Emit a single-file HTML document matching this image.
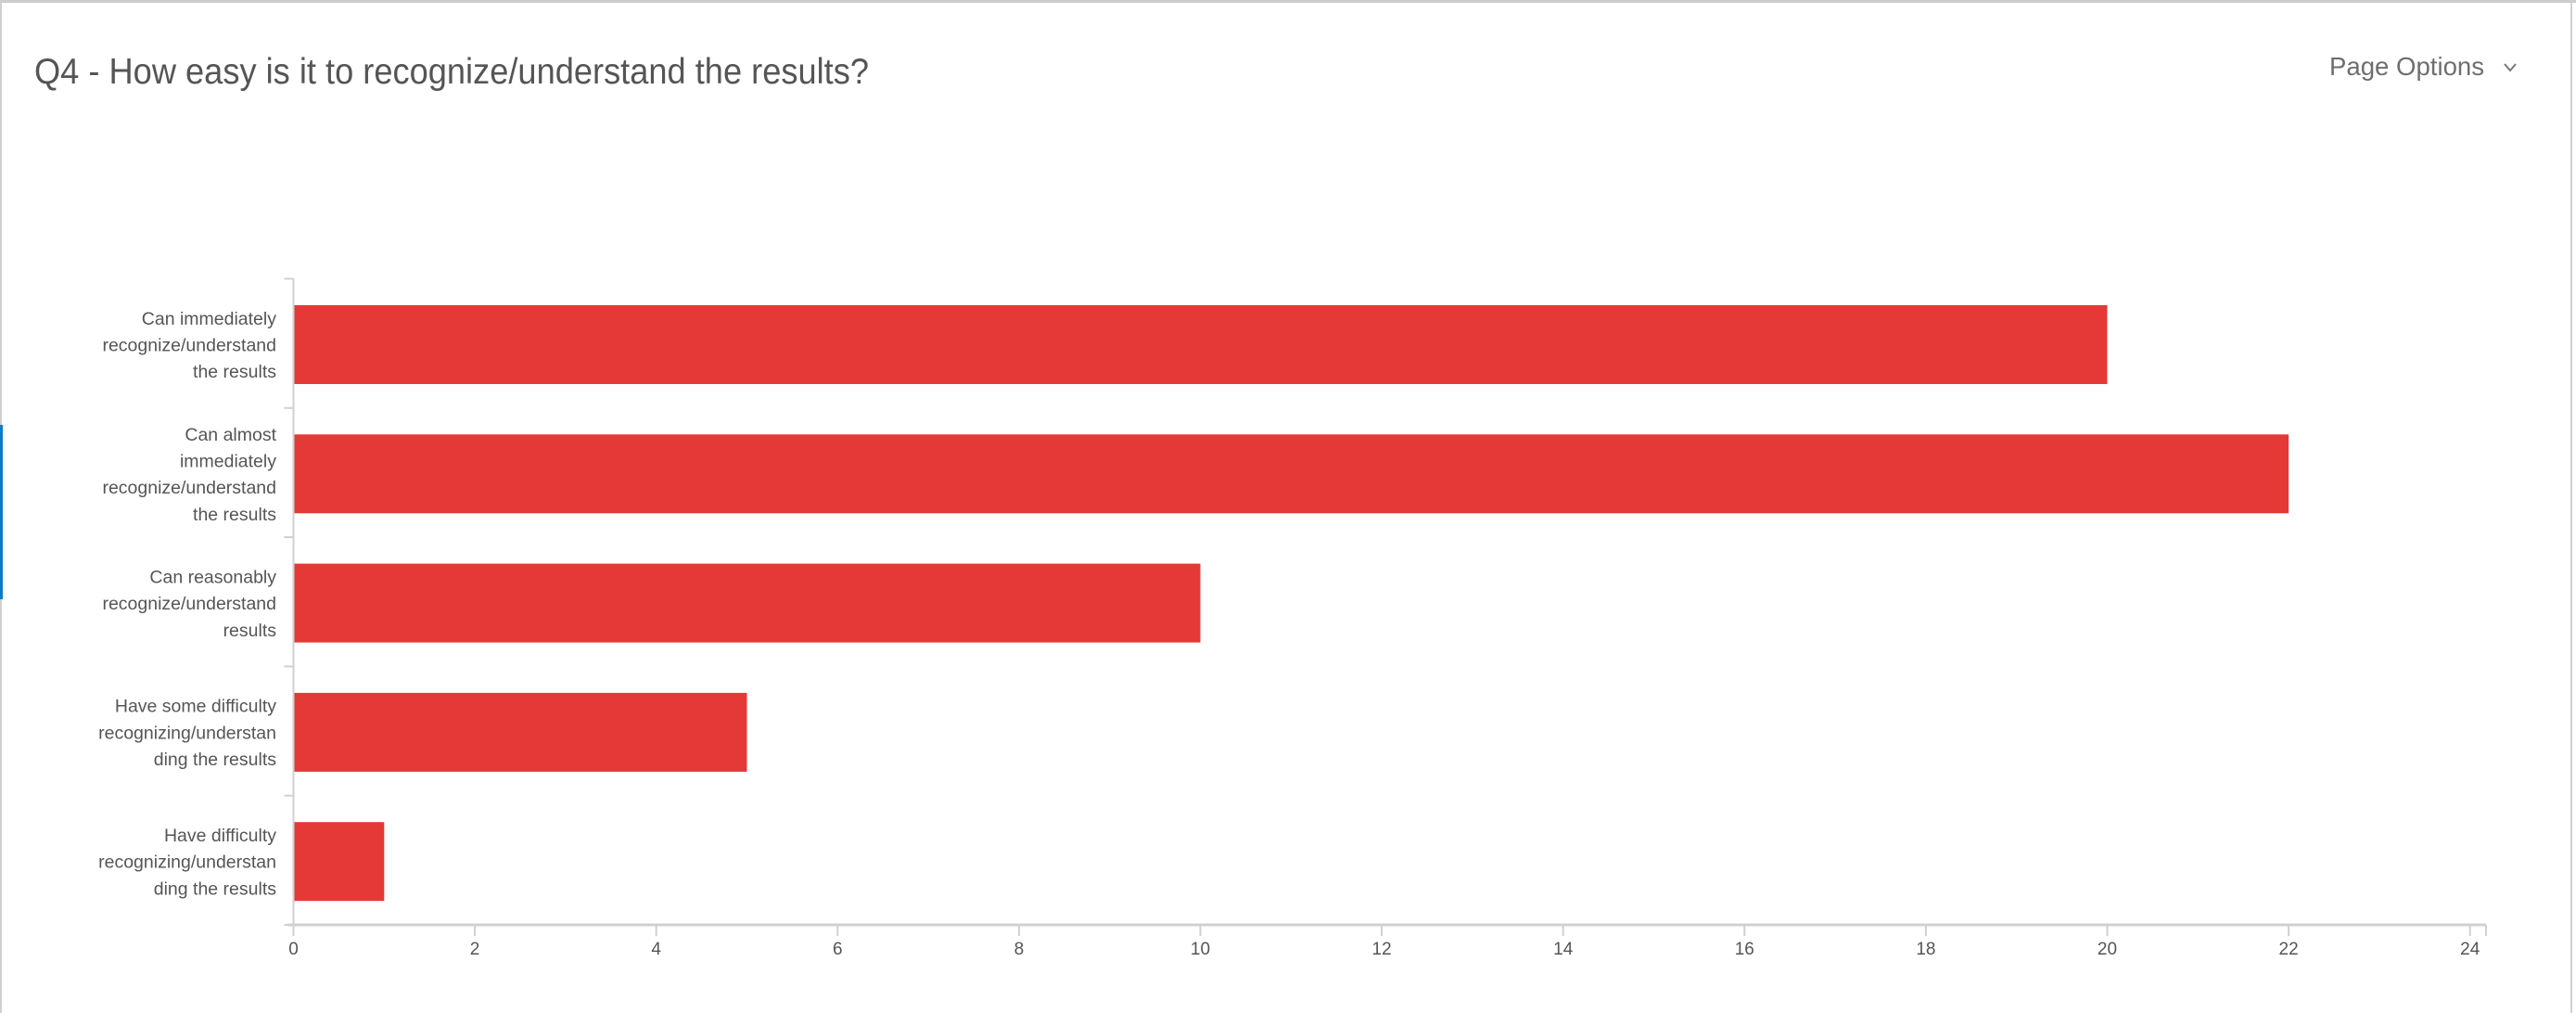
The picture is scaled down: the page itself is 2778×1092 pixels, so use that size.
<!DOCTYPE html>
<html><head><meta charset="utf-8"><style>
html,body{margin:0;padding:0;background:#fff;width:2778px;height:1092px;overflow:hidden}
svg{display:block;font-family:"Liberation Sans",sans-serif}
</style></head><body>
<svg id="chart" width="2778" height="1092" viewBox="0 0 2778 1092">
  <rect x="0" y="0" width="2778" height="1092" fill="#fff"/>
  <rect x="0" y="0" width="2778" height="3" fill="#cccccc"/>
  <rect x="0" y="0" width="2" height="1092" fill="#d0d0d0"/>
  <rect x="2772" y="0" width="2" height="1092" fill="#d0d0d0"/>
  <rect x="0" y="458" width="3" height="188" fill="#0a7bc8"/>
  <text x="37" y="90" font-size="39" fill="#555" textLength="900" lengthAdjust="spacingAndGlyphs">Q4 - How easy is it to recognize/understand the results?</text>
  <g>
    <text x="2512" y="81" font-size="28" fill="#6e6e6e" textLength="167" lengthAdjust="spacingAndGlyphs">Page Options</text>
    <polyline points="2701,69 2707,76 2713,69" fill="none" stroke="#777" stroke-width="2"/>
  </g>
  <g id="plot"></g>
</svg>
<script>
const categories = [
  ["Can immediately","recognize/understand","the results"],
  ["Can almost","immediately","recognize/understand","the results"],
  ["Can reasonably","recognize/understand","results"],
  ["Have some difficulty","recognizing/understan","ding the results"],
  ["Have difficulty","recognizing/understan","ding the results"]
];
const values = [20, 22, 10, 5, 1];
const ticks = [0,2,4,6,8,10,12,14,16,18,20,22,24];

const NS = "http://www.w3.org/2000/svg";
const g = document.getElementById("plot");
const X0 = 316.5, UNIT = 97.8, TOP = 300.5, BAND = 139.3, BAR_OFF = 28.5, BAR_H = 85, BASE = 997;
function xScale(v){ return X0 + v*UNIT; }
function yBand(i){ return TOP + i*BAND; }
function mk(tag, attrs){ const e = document.createElementNS(NS, tag); for (const k in attrs) e.setAttribute(k, attrs[k]); g.appendChild(e); return e; }

// y axis line
const ya = mk("line", {x1:X0, y1:TOP, x2:X0, y2:BASE, stroke:"#d0d0d0", "stroke-width":2});


// x axis line
const xa = mk("line", {x1:X0-6, y1:BASE, x2:2681, y2:BASE, stroke:"#d0d0d0", "stroke-width":3});


const xe = mk("line", {x1:2681, y1:BASE, x2:2681, y2:BASE+12, stroke:"#d0d0d0", "stroke-width":2});



for (let i=0;i<=categories.length;i++){
  const t = mk("line", {x1:X0-10, y1:yBand(i), x2:X0, y2:yBand(i), stroke:"#d0d0d0", "stroke-width":2});
  
  
}

categories.forEach((lines, i) => {
  const y = yBand(i) + BAR_OFF;
  const r = mk("rect", {x:X0+1, y:y, width:xScale(values[i])-X0-1, height:BAR_H, fill:"#e43936"});
  
  
  const cy = y + BAR_H/2;
  const n = lines.length;
  lines.forEach((ln, j) => {
    const t = mk("text", {x:298, y:cy + (j-(n-1)/2)*28.7 + 7, "font-size":19.5, fill:"#555", "text-anchor":"end"});
    t.textContent = ln;
    
    
  });
});

ticks.forEach(v => {
  const x = xScale(v);
  const tk = mk("line", {x1:x, y1:BASE, x2:x, y2:BASE+12, stroke:"#d0d0d0", "stroke-width":2});
  
  
  const lb = mk("text", {x:x, y:1029, "font-size":19, fill:"#555", "text-anchor":"middle"});
  lb.textContent = v;
  
  
});
</script>
</body></html>
